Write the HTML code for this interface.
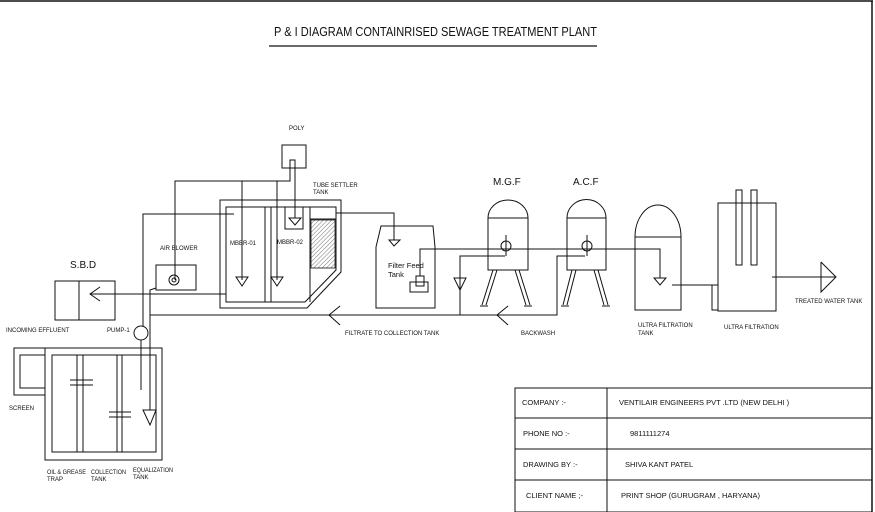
<!DOCTYPE html>
<html><head><meta charset="utf-8"><style>
body{margin:0;background:#fff}
svg{display:block}
text{font-family:"Liberation Sans",Arial,sans-serif;fill:#111}
.s{font-size:6px}
</style></head><body>
<svg width="875" height="512" viewBox="0 0 875 512" xmlns="http://www.w3.org/2000/svg" fill="none" stroke="#111" stroke-width="1">
<line x1="0" y1="1" x2="873" y2="1" stroke-width="1.5"/>
<line x1="872" y1="1" x2="872" y2="512" stroke-width="1.5"/>
<text x="274" y="36" font-size="13" stroke="none" fill="#111" textLength="323" lengthAdjust="spacingAndGlyphs">P &amp; I DIAGRAM CONTAINRISED SEWAGE TREATMENT PLANT</text>
<line x1="269" y1="46" x2="597" y2="46" stroke-width="1.3"/>

<!-- POLY -->
<rect x="282" y="145" width="24" height="23"/>
<text x="289" y="130" class="s" stroke="none">POLY</text>
<polyline points="175,280 175,181 290,181 290,160 295,160 295,218"/>
<line x1="242" y1="181" x2="242" y2="280"/>
<line x1="277" y1="181" x2="277" y2="280"/>
<polygon points="236,277 248,277 242,286"/>
<polygon points="271,277 283,277 277,286"/>
<!-- MBBR tank -->
<polygon points="220,200 341,200 341,272 307,308 220,308"/>
<polygon points="226,207 336,207 336,270 305,302 226,302"/>
<line x1="265" y1="207" x2="265" y2="302"/><line x1="271" y1="207" x2="271" y2="302"/>
<line x1="310" y1="207" x2="310" y2="302"/>
<rect x="285" y="207" width="18" height="22"/>
<polygon points="289,218 301,218 295,225"/>
<rect x="311" y="220" width="24" height="48" fill="url(#h)" stroke-width="0.8"/>
<defs><pattern id="h" width="3" height="3" patternUnits="userSpaceOnUse" patternTransform="rotate(45)"><line x1="0" y1="0" x2="0" y2="3" stroke="#333" stroke-width="0.7"/></pattern></defs>
<line x1="310" y1="219" x2="336" y2="219"/>
<text x="230" y="245" class="s" stroke="none">MBBR-01</text>
<text x="277" y="244" class="s" stroke="none">MBBR-02</text>
<text x="313" y="187" class="s" stroke="none">TUBE SETTLER</text>
<text x="313" y="194" class="s" stroke="none">TANK</text>
<polyline points="336,213 394,213 394,240"/>
<polygon points="389,240 400,240 394,246"/>
<polyline points="143,326 143,214 234,214"/>
<!-- air blower -->
<rect x="156" y="265" width="40" height="25"/>
<circle cx="174" cy="280" r="5"/><circle cx="174" cy="280" r="2"/>
<text x="160" y="250" class="s" stroke="none">AIR BLOWER</text>
<polyline points="156,288 150,290 150,410"/>
<!-- SBD -->
<rect x="55" y="281" width="60" height="39"/><line x1="79" y1="281" x2="79" y2="320"/>
<text x="70" y="268" font-size="10" stroke="none">S.B.D</text>
<line x1="90" y1="294" x2="226" y2="294"/>
<polyline points="100,287 90,294 100,301"/>
<!-- return line -->
<polyline points="150,315 557,315 557,256 585,256"/>
<polyline points="340,306 329,315 340,325"/>
<polyline points="508,306 497,315 508,325"/>
<text x="345" y="335" class="s" stroke="none">FILTRATE TO COLLECTION TANK</text>
<text x="521" y="335" class="s" stroke="none">BACKWASH</text>
<!-- pump -->
<circle cx="141" cy="333" r="7"/>
<line x1="141" y1="340" x2="141" y2="390"/>
<text x="107" y="332" class="s" stroke="none">PUMP-1</text>
<text x="6" y="332" class="s" stroke="none">INCOMING EFFLUENT</text>
<!-- screen & tanks -->
<rect x="14" y="348" width="31" height="47"/><rect x="20" y="355" width="25" height="33"/>
<rect x="45" y="348" width="117" height="112"/><rect x="52" y="355" width="104" height="97"/>
<line x1="77" y1="355" x2="77" y2="452"/><line x1="83" y1="355" x2="83" y2="452"/>
<line x1="117" y1="355" x2="117" y2="452"/><line x1="122" y1="355" x2="122" y2="452"/>
<line x1="70" y1="380" x2="93" y2="380"/><line x1="70" y1="385" x2="93" y2="385"/>
<line x1="109" y1="412" x2="131" y2="412"/><line x1="109" y1="417" x2="131" y2="417"/>
<polygon points="143,410 156,410 150,425"/>
<text x="9" y="410" class="s" stroke="none">SCREEN</text>
<text x="47" y="474" class="s" stroke="none" textLength="39" lengthAdjust="spacingAndGlyphs">OIL &amp; GREASE</text><text x="47" y="481" class="s" stroke="none">TRAP</text>
<text x="91" y="474" class="s" stroke="none" textLength="35" lengthAdjust="spacingAndGlyphs">COLLECTION</text><text x="91" y="481" class="s" stroke="none">TANK</text>
<text x="133" y="472" class="s" stroke="none" textLength="40" lengthAdjust="spacingAndGlyphs">EQUALIZATION</text><text x="133" y="479" class="s" stroke="none">TANK</text>
<!-- filter feed -->
<polygon points="381,226 433,226 435,247 435,308 376,308 376,247"/>
<text x="388" y="268" font-size="7.5" stroke="none">Filter Feed</text>
<text x="388" y="277" font-size="7.5" stroke="none">Tank</text>
<rect x="410" y="282" width="18" height="10"/><rect x="416" y="276" width="8" height="10"/>
<polyline points="420,276 420,249 660,249 660,278"/>
<polygon points="654,278 666,278 660,285"/>
<polyline points="460,315 460,256 505,256"/>
<polygon points="454,278 466,278 460,290"/>
<!-- MGF -->
<text x="493" y="185" font-size="10" stroke="none">M.G.F</text>
<path d="M488,218 A20,18 0 0 1 528,218 Z"/><rect x="488" y="218" width="40" height="52"/>
<circle cx="506" cy="246" r="5"/><line x1="506" y1="235" x2="506" y2="256"/>
<line x1="493" y1="270" x2="482" y2="305"/><line x1="497" y1="270" x2="486" y2="305"/>
<line x1="480" y1="306" x2="488" y2="306"/>
<line x1="515" y1="270" x2="526" y2="305"/><line x1="519" y1="270" x2="530" y2="305"/>
<line x1="524" y1="306" x2="532" y2="306"/>
<!-- ACF -->
<text x="573" y="185" font-size="10" stroke="none">A.C.F</text>
<path d="M567,218 A19,18 0 0 1 606,218 Z"/><rect x="567" y="218" width="39" height="52"/>
<circle cx="587" cy="246" r="5"/><line x1="587" y1="235" x2="587" y2="256"/>
<line x1="572" y1="270" x2="563" y2="305"/><line x1="576" y1="270" x2="567" y2="305"/>
<line x1="561" y1="306" x2="569" y2="306"/>
<line x1="594" y1="270" x2="604" y2="305"/><line x1="598" y1="270" x2="608" y2="305"/>
<line x1="602" y1="306" x2="610" y2="306"/>
<!-- UF tank -->
<path d="M635,237 A23,32 0 0 1 681,237"/><rect x="635" y="237" width="46" height="73"/>
<polyline points="672,285 717,285"/><rect x="712" y="285" width="6" height="25"/>
<text x="638" y="327" class="s" stroke="none">ULTRA FILTRATION</text><text x="638" y="335" class="s" stroke="none">TANK</text>
<!-- UF -->
<rect x="718" y="203" width="58" height="108"/>
<rect x="736" y="190" width="6" height="75"/><rect x="751" y="190" width="6" height="75"/>
<text x="724" y="329" class="s" stroke="none">ULTRA FILTRATION</text>
<line x1="772" y1="277" x2="835" y2="277"/>
<polyline points="821,262 836,277 821,292 821,262"/>
<text x="795" y="303" class="s" stroke="none">TREATED WATER TANK</text>
<!-- table -->
<rect x="515" y="388" width="357" height="124"/>
<line x1="607" y1="388" x2="607" y2="512"/>
<line x1="515" y1="418" x2="872" y2="418"/><line x1="515" y1="449" x2="872" y2="449"/><line x1="515" y1="480" x2="872" y2="480"/>
<g font-size="7.5" stroke="none" fill="#111">
<text x="522" y="405">COMPANY :-</text><text x="619" y="405">VENTILAIR ENGINEERS PVT .LTD (NEW DELHI )</text>
<text x="523" y="436">PHONE NO :-</text><text x="630" y="436">9811111274</text>
<text x="523" y="467">DRAWING BY :-</text><text x="625" y="467">SHIVA KANT PATEL</text>
<text x="526" y="498">CLIENT NAME ;-</text><text x="621" y="498">PRINT SHOP (GURUGRAM , HARYANA)</text>
</g>
</svg>
</body></html>
